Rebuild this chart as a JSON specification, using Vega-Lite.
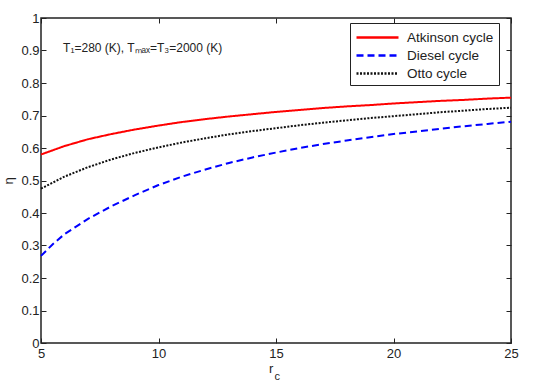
{
  "$schema": "https://vega.github.io/schema/vega-lite/v6.json",
  "width": 470,
  "height": 325,
  "autosize": {"type": "none"},
  "padding": {"left": 41, "top": 18, "right": 40, "bottom": 41},
  "background": "white",
  "config": {
    "font": "Liberation Sans",
    "view": {"stroke": "#222", "strokeWidth": 1.5},
    "axis": {
      "domain": false,
      "tickColor": "#222",
      "tickWidth": 1,
      "tickSize": -5,
      "grid": false,
      "labelColor": "#222",
      "labelFontSize": 13,
      "titleColor": "#222",
      "titleFontWeight": "normal"
    }
  },
  "datasets": {
    "curves": [
      {"rc": 5, "eta": 0.580, "cycle": "Atkinson cycle"},
      {"rc": 6, "eta": 0.606, "cycle": "Atkinson cycle"},
      {"rc": 7, "eta": 0.627, "cycle": "Atkinson cycle"},
      {"rc": 8, "eta": 0.643, "cycle": "Atkinson cycle"},
      {"rc": 9, "eta": 0.657, "cycle": "Atkinson cycle"},
      {"rc": 10, "eta": 0.669, "cycle": "Atkinson cycle"},
      {"rc": 11, "eta": 0.680, "cycle": "Atkinson cycle"},
      {"rc": 12, "eta": 0.689, "cycle": "Atkinson cycle"},
      {"rc": 13, "eta": 0.697, "cycle": "Atkinson cycle"},
      {"rc": 14, "eta": 0.704, "cycle": "Atkinson cycle"},
      {"rc": 15, "eta": 0.711, "cycle": "Atkinson cycle"},
      {"rc": 16, "eta": 0.717, "cycle": "Atkinson cycle"},
      {"rc": 17, "eta": 0.723, "cycle": "Atkinson cycle"},
      {"rc": 18, "eta": 0.728, "cycle": "Atkinson cycle"},
      {"rc": 19, "eta": 0.732, "cycle": "Atkinson cycle"},
      {"rc": 20, "eta": 0.737, "cycle": "Atkinson cycle"},
      {"rc": 21, "eta": 0.741, "cycle": "Atkinson cycle"},
      {"rc": 22, "eta": 0.745, "cycle": "Atkinson cycle"},
      {"rc": 23, "eta": 0.748, "cycle": "Atkinson cycle"},
      {"rc": 24, "eta": 0.752, "cycle": "Atkinson cycle"},
      {"rc": 25, "eta": 0.755, "cycle": "Atkinson cycle"},
      {"rc": 5, "eta": 0.268, "cycle": "Diesel cycle"},
      {"rc": 5.5, "eta": 0.304, "cycle": "Diesel cycle"},
      {"rc": 6, "eta": 0.335, "cycle": "Diesel cycle"},
      {"rc": 7, "eta": 0.382, "cycle": "Diesel cycle"},
      {"rc": 8, "eta": 0.421, "cycle": "Diesel cycle"},
      {"rc": 9, "eta": 0.455, "cycle": "Diesel cycle"},
      {"rc": 10, "eta": 0.486, "cycle": "Diesel cycle"},
      {"rc": 11, "eta": 0.512, "cycle": "Diesel cycle"},
      {"rc": 12, "eta": 0.534, "cycle": "Diesel cycle"},
      {"rc": 13, "eta": 0.554, "cycle": "Diesel cycle"},
      {"rc": 14, "eta": 0.571, "cycle": "Diesel cycle"},
      {"rc": 15, "eta": 0.586, "cycle": "Diesel cycle"},
      {"rc": 16, "eta": 0.600, "cycle": "Diesel cycle"},
      {"rc": 17, "eta": 0.612, "cycle": "Diesel cycle"},
      {"rc": 18, "eta": 0.623, "cycle": "Diesel cycle"},
      {"rc": 19, "eta": 0.633, "cycle": "Diesel cycle"},
      {"rc": 20, "eta": 0.643, "cycle": "Diesel cycle"},
      {"rc": 21, "eta": 0.651, "cycle": "Diesel cycle"},
      {"rc": 22, "eta": 0.659, "cycle": "Diesel cycle"},
      {"rc": 23, "eta": 0.667, "cycle": "Diesel cycle"},
      {"rc": 24, "eta": 0.674, "cycle": "Diesel cycle"},
      {"rc": 25, "eta": 0.681, "cycle": "Diesel cycle"},
      {"rc": 5, "eta": 0.475, "cycle": "Otto cycle"},
      {"rc": 6, "eta": 0.512, "cycle": "Otto cycle"},
      {"rc": 7, "eta": 0.541, "cycle": "Otto cycle"},
      {"rc": 8, "eta": 0.565, "cycle": "Otto cycle"},
      {"rc": 9, "eta": 0.585, "cycle": "Otto cycle"},
      {"rc": 10, "eta": 0.602, "cycle": "Otto cycle"},
      {"rc": 11, "eta": 0.617, "cycle": "Otto cycle"},
      {"rc": 12, "eta": 0.630, "cycle": "Otto cycle"},
      {"rc": 13, "eta": 0.642, "cycle": "Otto cycle"},
      {"rc": 14, "eta": 0.652, "cycle": "Otto cycle"},
      {"rc": 15, "eta": 0.661, "cycle": "Otto cycle"},
      {"rc": 16, "eta": 0.670, "cycle": "Otto cycle"},
      {"rc": 17, "eta": 0.678, "cycle": "Otto cycle"},
      {"rc": 18, "eta": 0.685, "cycle": "Otto cycle"},
      {"rc": 19, "eta": 0.692, "cycle": "Otto cycle"},
      {"rc": 20, "eta": 0.698, "cycle": "Otto cycle"},
      {"rc": 21, "eta": 0.704, "cycle": "Otto cycle"},
      {"rc": 22, "eta": 0.710, "cycle": "Otto cycle"},
      {"rc": 23, "eta": 0.715, "cycle": "Otto cycle"},
      {"rc": 24, "eta": 0.720, "cycle": "Otto cycle"},
      {"rc": 25, "eta": 0.724, "cycle": "Otto cycle"}
    ],
    "note": [{"rc": 5.94, "eta": 0.908, "label": "T₁=280 (K), Tₘₐₓ=T₃=2000 (K)"}],
    "xr": [{"rc": 14.79, "eta": -0.08, "label": "r"}],
    "xc": [{"rc": 15.05, "eta": -0.105, "label": "c"}]
  },
  "layer": [
    {
      "data": {"name": "curves"},
      "mark": {"type": "line", "strokeWidth": 2},
      "encoding": {
        "x": {
          "field": "rc", "type": "quantitative",
          "scale": {"domain": [5, 25], "nice": false},
          "axis": {"orient": "bottom", "values": [5, 10, 15, 20, 25], "title": null, "labelPadding": 9, "labelFlush": false}
        },
        "y": {
          "field": "eta", "type": "quantitative",
          "scale": {"domain": [0, 1], "nice": false},
          "axis": {"orient": "left", "values": [0, 0.1, 0.2, 0.3, 0.4, 0.5, 0.6, 0.7, 0.8, 0.9, 1], "format": "~g", "title": "η", "titleFontSize": 13, "titlePadding": 5, "labelPadding": 7, "labelFlush": false}
        },
        "color": {
          "field": "cycle", "type": "nominal",
          "scale": {"domain": ["Atkinson cycle", "Diesel cycle", "Otto cycle"], "range": ["#ff0000", "#0000ff", "#111111"]},
          "legend": {
            "title": null,
            "orient": "none",
            "legendX": 309,
            "legendY": 5,
            "strokeColor": "#222",
            "fillColor": "white",
            "padding": 5,
            "symbolType": "M-1,0H4.25",
            "symbolSize": 256,
            "symbolStrokeWidth": 2.5,
            "rowPadding": 2,
            "labelFontSize": 13.5,
            "labelColor": "#222",
            "labelOffset": 33
          }
        },
        "strokeDash": {
          "field": "cycle", "type": "nominal",
          "scale": {"domain": ["Atkinson cycle", "Diesel cycle", "Otto cycle"], "range": [[1, 0], [7, 4], [2, 1.5]]},
          "legend": null
        }
      }
    },
    {
      "data": {"name": "note"},
      "mark": {"type": "text", "align": "left", "baseline": "middle", "fontSize": 12, "color": "#222"},
      "encoding": {
        "x": {
          "field": "rc", "type": "quantitative",
          "scale": {"domain": [5, 25], "nice": false},
          "axis": {"orient": "top", "values": [5, 10, 15, 20, 25], "labels": false, "title": null}
        },
        "y": {
          "field": "eta", "type": "quantitative",
          "scale": {"domain": [0, 1], "nice": false},
          "axis": {"orient": "right", "values": [0, 0.1, 0.2, 0.3, 0.4, 0.5, 0.6, 0.7, 0.8, 0.9, 1], "labels": false, "title": null}
        },
        "text": {"field": "label"}
      }
    },
    {
      "data": {"name": "xr"},
      "mark": {"type": "text", "align": "center", "baseline": "middle", "fontSize": 13, "color": "#222"},
      "encoding": {
        "x": {"field": "rc", "type": "quantitative", "scale": {"domain": [5, 25], "nice": false}, "axis": null},
        "y": {"field": "eta", "type": "quantitative", "scale": {"domain": [0, 1], "nice": false}, "axis": null},
        "text": {"field": "label"}
      }
    },
    {
      "data": {"name": "xc"},
      "mark": {"type": "text", "align": "center", "baseline": "middle", "fontSize": 11, "color": "#222"},
      "encoding": {
        "x": {"field": "rc", "type": "quantitative", "scale": {"domain": [5, 25], "nice": false}, "axis": null},
        "y": {"field": "eta", "type": "quantitative", "scale": {"domain": [0, 1], "nice": false}, "axis": null},
        "text": {"field": "label"}
      }
    }
  ],
  "resolve": {"axis": {"x": "independent", "y": "independent"}}
}
